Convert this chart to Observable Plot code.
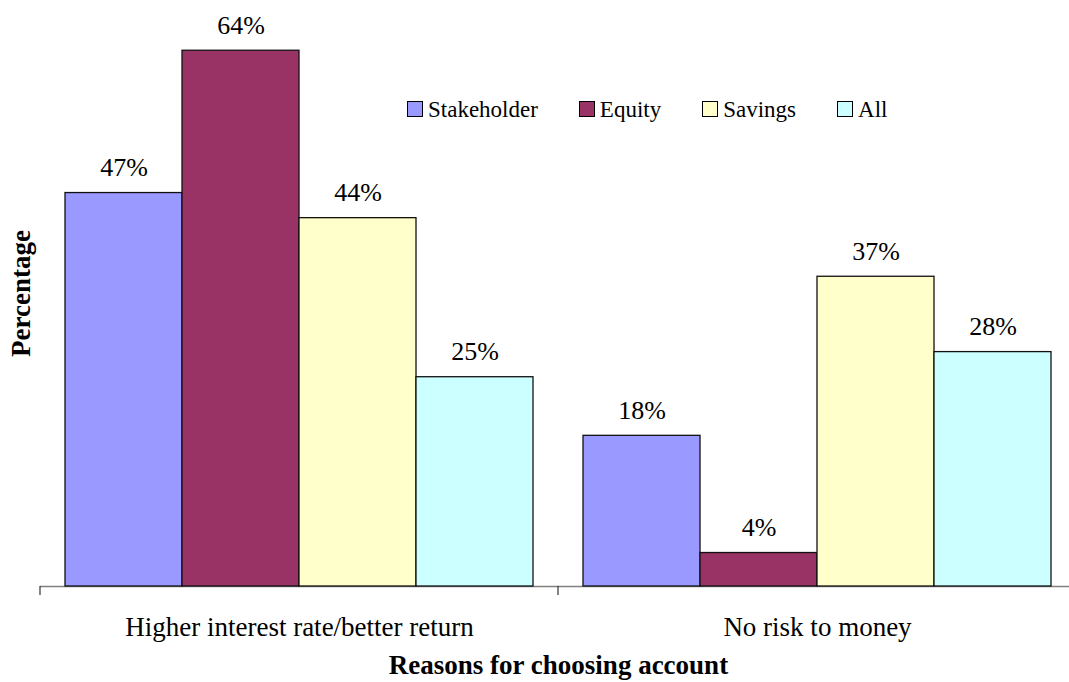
<!DOCTYPE html>
<html><head><meta charset="utf-8">
<script src="https://cdn.jsdelivr.net/npm/d3@7"></script>
<script src="https://cdn.jsdelivr.net/npm/@observablehq/plot@0.6"></script>
<style>
body{margin:0;background:#fff;}
#wrap{position:relative;width:1069px;height:682px;font-family:"Liberation Serif","Times New Roman",serif;}
#legend{position:absolute;left:407px;top:98px;display:flex;align-items:baseline;font-size:23px;line-height:1;color:#000;}
#legend .item{display:flex;align-items:baseline;margin-right:41px;}
#legend .sw{display:inline-block;width:14px;height:14px;border:1px solid #000;margin-right:5px;}
</style>
</head><body>
<div id="wrap"></div>
<script>
const groups = ["Higher interest rate/better return", "No risk to money"];
const series = ["Stakeholder", "Equity", "Savings", "All"];
const higherInterest = [47, 64, 44, 25];
const noRisk = [18, 4, 37, 28];
const colors = ["#9999FF", "#993366", "#FFFFCC", "#CCFFFF"];
const xTitle = "Reasons for choosing account";
const yTitle = "Percentage";

const valuesByGroup = [higherInterest, noRisk];
const data = groups.flatMap((g, gi) => series.map((s, si) => ({group: g, series: s, value: valuesByGroup[gi][si]})));

const chart = Plot.plot({
  width: 1069, height: 682,
  marginLeft: 40, marginRight: 0, marginTop: 0, marginBottom: 96,
  style: {fontFamily: "'Liberation Serif', 'Times New Roman', serif", fontSize: "27px", color: "#000", background: "#fff"},
  fx: {domain: groups, padding: 0, range: [40, 1076]},
  x: {domain: series, paddingInner: 0, paddingOuter: 0.2, axis: null},
  y: {domain: [0, 70]},
  color: {domain: series, range: colors},
  marks: [
    Plot.ruleY([0], {stroke: "#808080", strokeWidth: 1.5}),
    Plot.barY(data, {fx: "group", x: "series", y: "value", fill: "series", stroke: "#111", strokeWidth: 1.3}),
    Plot.text(data, {fx: "group", x: "series", y: "value", text: d => d.value + "%", lineAnchor: "bottom", dy: -17, fontSize: 26, fill: "#000"}),
    Plot.axisFx({anchor: "bottom", tickSize: 0, tickPadding: 30, fontSize: 27, label: xTitle, labelAnchor: "center", labelArrow: "none", labelOffset: 87}),
    Plot.axisY({ticks: [], tickSize: 0, label: yTitle, labelAnchor: "center", labelArrow: "none", labelOffset: 30, fontSize: 27})
  ]
});

const wrap = document.getElementById("wrap");
wrap.appendChild(chart);

// bold axis titles
d3.select(chart).selectAll('g[aria-label="fx-axis label"] text, g[aria-label="y-axis label"] text').attr("font-weight", "bold");

// category boundary ticks (Excel style) using Plot's own scales
const fx = chart.scale("fx");
const y = chart.scale("y");
const y0 = y.apply(0);
const bounds = groups.map(g => fx.apply(g)).concat([fx.apply(groups[groups.length - 1]) + fx.bandwidth]);
d3.select(chart).append("g").selectAll("line").data(bounds).join("line")
  .attr("x1", d => d).attr("x2", d => d)
  .attr("y1", y0).attr("y2", y0 + 9)
  .attr("stroke", "#333").attr("stroke-width", 1.2);

// legend
const legend = d3.select(wrap).append("div").attr("id", "legend");
const items = legend.selectAll(".item").data(series).join("div").attr("class", "item");
items.append("span").attr("class", "sw").style("background", (d, i) => colors[i]);
items.append("span").text(d => d);
</script>
</body></html>
